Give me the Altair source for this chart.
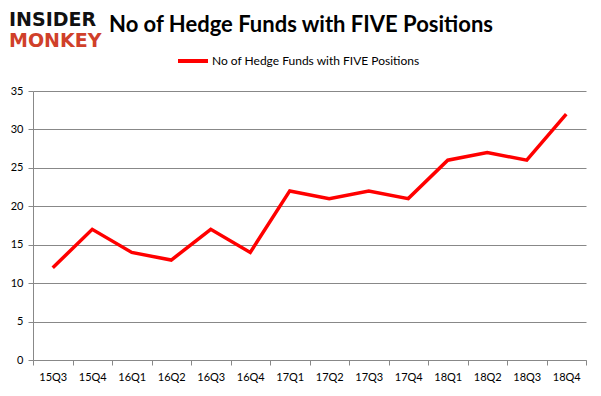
import altair as alt
import pandas as pd

quarters = ["15Q3", "15Q4", "16Q1", "16Q2", "16Q3", "16Q4", "17Q1", "17Q2",
            "17Q3", "17Q4", "18Q1", "18Q2", "18Q3", "18Q4"]
funds = [12, 17, 14, 13, 17, 14, 22, 21, 22, 21, 26, 27, 26, 32]
series_name = "No of Hedge Funds with FIVE Positions"
y_ticks = [0, 5, 10, 15, 20, 25, 30, 35]

df = pd.DataFrame({"quarter": quarters, "funds": funds})
one = pd.DataFrame({"k": [0]})

FONT = "Lato"

x_enc = alt.X(
    "quarter:N",
    sort=quarters,
    scale=alt.Scale(type="band", paddingInner=0, paddingOuter=0),
    bandPosition=0.5,
    axis=alt.Axis(
        title=None, labelAngle=0, tickBand="extent", grid=False,
        domainColor="#888888", tickColor="#888888", tickSize=5,
        labelFont=FONT, labelFontSize=11, labelColor="#000000", labelPadding=6,
    ),
)
y_enc = alt.Y(
    "funds:Q",
    scale=alt.Scale(domain=[0, 35], nice=False),
    axis=alt.Axis(
        title=None, values=y_ticks, grid=True, gridColor="#888888",
        domainColor="#888888", tickColor="#888888", tickSize=5,
        labelFont=FONT, labelFontSize=11, labelColor="#000000", labelPadding=5,
    ),
)

line = alt.Chart(df).mark_line(color="#ff0000", strokeWidth=3.5).encode(x=x_enc, y=y_enc)

title = alt.Chart(one).mark_text(
    text=series_name, font=FONT, fontSize=22, fontWeight="bold",
    color="#000000", align="center", baseline="middle",
).encode(x=alt.value(268), y=alt.value(-66))

legend_line = alt.Chart(one).mark_rule(color="#ff0000", strokeWidth=4).encode(
    x=alt.value(145), x2=alt.value(175), y=alt.value(-30))
legend_text = alt.Chart(one).mark_text(
    text=series_name, font=FONT, fontSize=12, color="#000000",
    align="left", baseline="middle",
).encode(x=alt.value(179), y=alt.value(-30))

logo1 = alt.Chart(one).mark_text(
    text="INSIDER", font="DejaVu Sans", fontSize=19, fontWeight="bold",
    color="#111111", align="left", baseline="middle",
).encode(x=alt.value(-24), y=alt.value(-71))
logo2 = alt.Chart(one).mark_text(
    text="MONKEY", font="DejaVu Sans", fontSize=19, fontWeight="bold",
    color="#d0402a", align="left", baseline="middle",
).encode(x=alt.value(-24), y=alt.value(-50))

chart = alt.layer(line, title, legend_line, legend_text, logo1, logo2).properties(
    width=553, height=269,
    padding={"left": 25, "top": 83, "right": 5, "bottom": 28},
    autosize=alt.AutoSizeParams(type="none"),
).configure_view(stroke=None).configure_axis(domainWidth=1, gridWidth=1)

chart.save("out.html", embed_options={"renderer": "svg", "actions": False})
